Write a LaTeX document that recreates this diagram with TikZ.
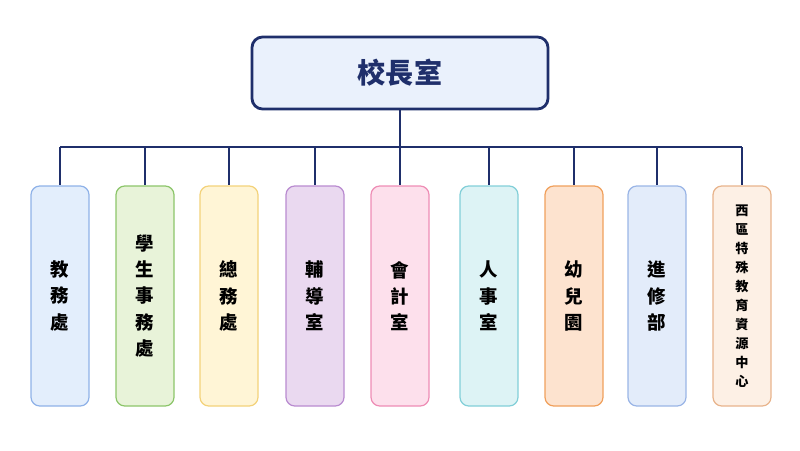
\documentclass[tikz,border=0pt]{standalone}
\usepackage{fontspec}
\newfontfamily\cjk{Noto Sans CJK TC}
\usetikzlibrary{positioning}
\definecolor{navy}{HTML}{1F2F6B}
\definecolor{headfill}{HTML}{EAF1FC}
\tikzset{
  unit/.style={draw, rounded corners=5pt, line width=0.7pt, minimum width=58*0.02cm,
    minimum height=220*0.02cm, align=center, font=\cjk\bfseries\fontsize{10.5}{15}\selectfont, text=black},
  link/.style={navy, line width=1.4pt}
}
\begin{document}
\begin{tikzpicture}[x=0.02cm,y=-0.02cm]
        \useasboundingbox (0,0) rectangle (800,450);
        % head office
        \node[draw=navy, fill=headfill, line width=1.6pt, rounded corners=6pt, minimum width=296*0.02cm,
          minimum height=72*0.02cm, font=\cjk\bfseries\fontsize{16}{18}\selectfont, text=navy] (head) at (400,73) {校長室};
        \coordinate (bus) at (400,147);
        \draw[link] (head.south) -- (bus);
        \draw[link] (60,147) -- (742,147);
        % units
        \foreach \name/\x/\fc/\bc/\txt in {
            a/60/E3EEFC/8FB2E8/{教\\務\\處},
            b/145/E8F3D9/8CC56A/{學\\生\\事\\務\\處},
            c/229/FFF5D6/F3D27A/{總\\務\\處},
            d/315/EAD9F0/B98BD0/{輔\\導\\室},
            e/400/FDE0EC/EE8DB5/{會\\計\\室},
            f/489/DDF3F5/82CFD8/{人\\事\\室},
            g/574/FDE3CF/F0A05C/{幼\\兒\\園},
            h/657/E3ECFA/9AB5E6/{進\\修\\部}}{
          \definecolor{fc}{HTML}{\fc}\definecolor{bc}{HTML}{\bc}
          \node[unit, fill=fc, draw=bc] (\name) at (\x,296) {\txt};
          \draw[link] (\x,147) -- (\name.north);
        }
        \definecolor{fc}{HTML}{FDF0E5}\definecolor{bc}{HTML}{E8B48C}
        \node[unit, fill=fc, draw=bc, font=\cjk\bfseries\fontsize{7.5}{10.8}\selectfont] (i) at (742,296)
          {西\\區\\特\\殊\\教\\育\\資\\源\\中\\心};
        \draw[link] (742,147) -- (i.north);
\end{tikzpicture}
\end{document}
